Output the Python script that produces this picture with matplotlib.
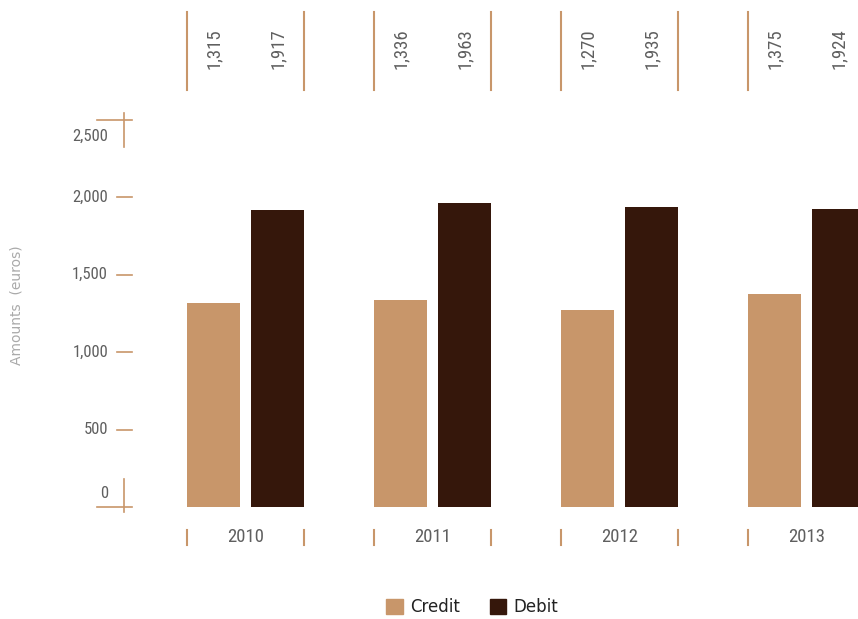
import matplotlib
matplotlib.use("Agg")

import matplotlib.pyplot as plt
import matplotlib.transforms as mtransforms
from matplotlib.font_manager import fontManager
from matplotlib.patches import Patch

# data
years = ["2010", "2011", "2012", "2013"]
credit = [1315, 1336, 1270, 1375]
debit = [1917, 1963, 1935, 1924]
yticks = [0, 500, 1000, 1500, 2000, 2500]

credit_color = "#C8966A"
debit_color = "#35170B"
line_color = "#C8966A"
text_grey = "#5f5f5f"

# pick a narrow face for the numbers if there is one
names = set(f.name for f in fontManager.ttflist)
num_font = "DejaVu Sans"
for cand in ["Liberation Sans Narrow", "Roboto Condensed", "Open Sans Condensed", "DejaVu Sans Condensed"]:
    if cand in names:
        num_font = cand
        break

W, H = 858, 619
fig = plt.figure(figsize=(W / 100, H / 100), dpi=100)

def fx(px):
    return px / W

def fy(py):
    return 1 - py / H

ax = fig.add_axes([fx(125), fy(507), 1 - fx(125), fy(119.5) - fy(507)])
for s in ax.spines.values():
    s.set_visible(False)
ax.set_xticks([])
ax.set_yticks([])

width = 0.2834
off = 0.171
idx = list(range(len(years)))
ax.bar([i - off for i in idx], credit, width, color=credit_color)
ax.bar([i + off for i in idx], debit, width, color=debit_color)
ax.set_xlim(-0.644, 3.275)
ax.set_ylim(0, 2500)

# x in data, y in figure
tx = mtransforms.blended_transform_factory(ax.transData, fig.transFigure)
# x in figure, y in data
ty = mtransforms.blended_transform_factory(fig.transFigure, ax.transData)

for i in idx:
    left = i - off - width / 2
    right = i + off + width / 2
    # brackets for value labels at the top
    for x in (left, right):
        ax.plot([x, x], [fy(12), fy(90)], color=line_color, lw=1.5,
                transform=tx, clip_on=False)
        ax.plot([x, x], [fy(530), fy(545)], color=line_color, lw=1.5,
                transform=tx, clip_on=False)
    ax.text(i - off, fy(49), "{:,}".format(credit[i]), rotation=90,
            ha="center", va="center", transform=tx, color=text_grey,
            fontsize=13.5, family=num_font)
    ax.text(i + off, fy(49), "{:,}".format(debit[i]), rotation=90,
            ha="center", va="center", transform=tx, color=text_grey,
            fontsize=13.5, family=num_font)
    ax.text(i, fy(537), years[i], ha="center", va="center", transform=tx,
            color=text_grey, fontsize=13.5, family=num_font)

# y axis ticks and crosses
for v in yticks[1:-1]:
    ax.plot([fx(117), fx(132)], [v, v], color=line_color, lw=1.2,
            transform=ty, clip_on=False)
    ax.text(fx(108), v, "{:,}".format(v), ha="right", va="center",
            transform=ty, color=text_grey, fontsize=12, family=num_font)

for v in (0, 2500):
    ax.plot([fx(97), fx(132)], [v, v], color=line_color, lw=1.2,
            transform=ty, clip_on=False)
ax.plot([fx(124), fx(124)], [fy(113), fy(147)], color=line_color, lw=1.2,
        transform=fig.transFigure, clip_on=False)
ax.plot([fx(124), fx(124)], [fy(479), fy(512)], color=line_color, lw=1.2,
        transform=fig.transFigure, clip_on=False)
fig.text(fx(108), fy(136), "2,500", ha="right", va="center",
         color=text_grey, fontsize=12, family=num_font)
fig.text(fx(108), fy(493), "0", ha="right", va="center",
         color=text_grey, fontsize=12, family=num_font)

fig.text(fx(17), fy(305), "Amounts  (euros)", rotation=90, ha="center",
         va="center", color="#aaaaaa", fontsize=10)

handles = [Patch(color=credit_color, label="Credit"),
           Patch(color=debit_color, label="Debit")]
fig.legend(handles=handles, loc="center", bbox_to_anchor=(fx(472), fy(607)),
           ncol=2, frameon=False, handlelength=1.0, handleheight=1.0,
           handletextpad=0.4, columnspacing=1.8, fontsize=12,
           labelcolor="#222222")

plt.savefig("out.png", dpi=100)
